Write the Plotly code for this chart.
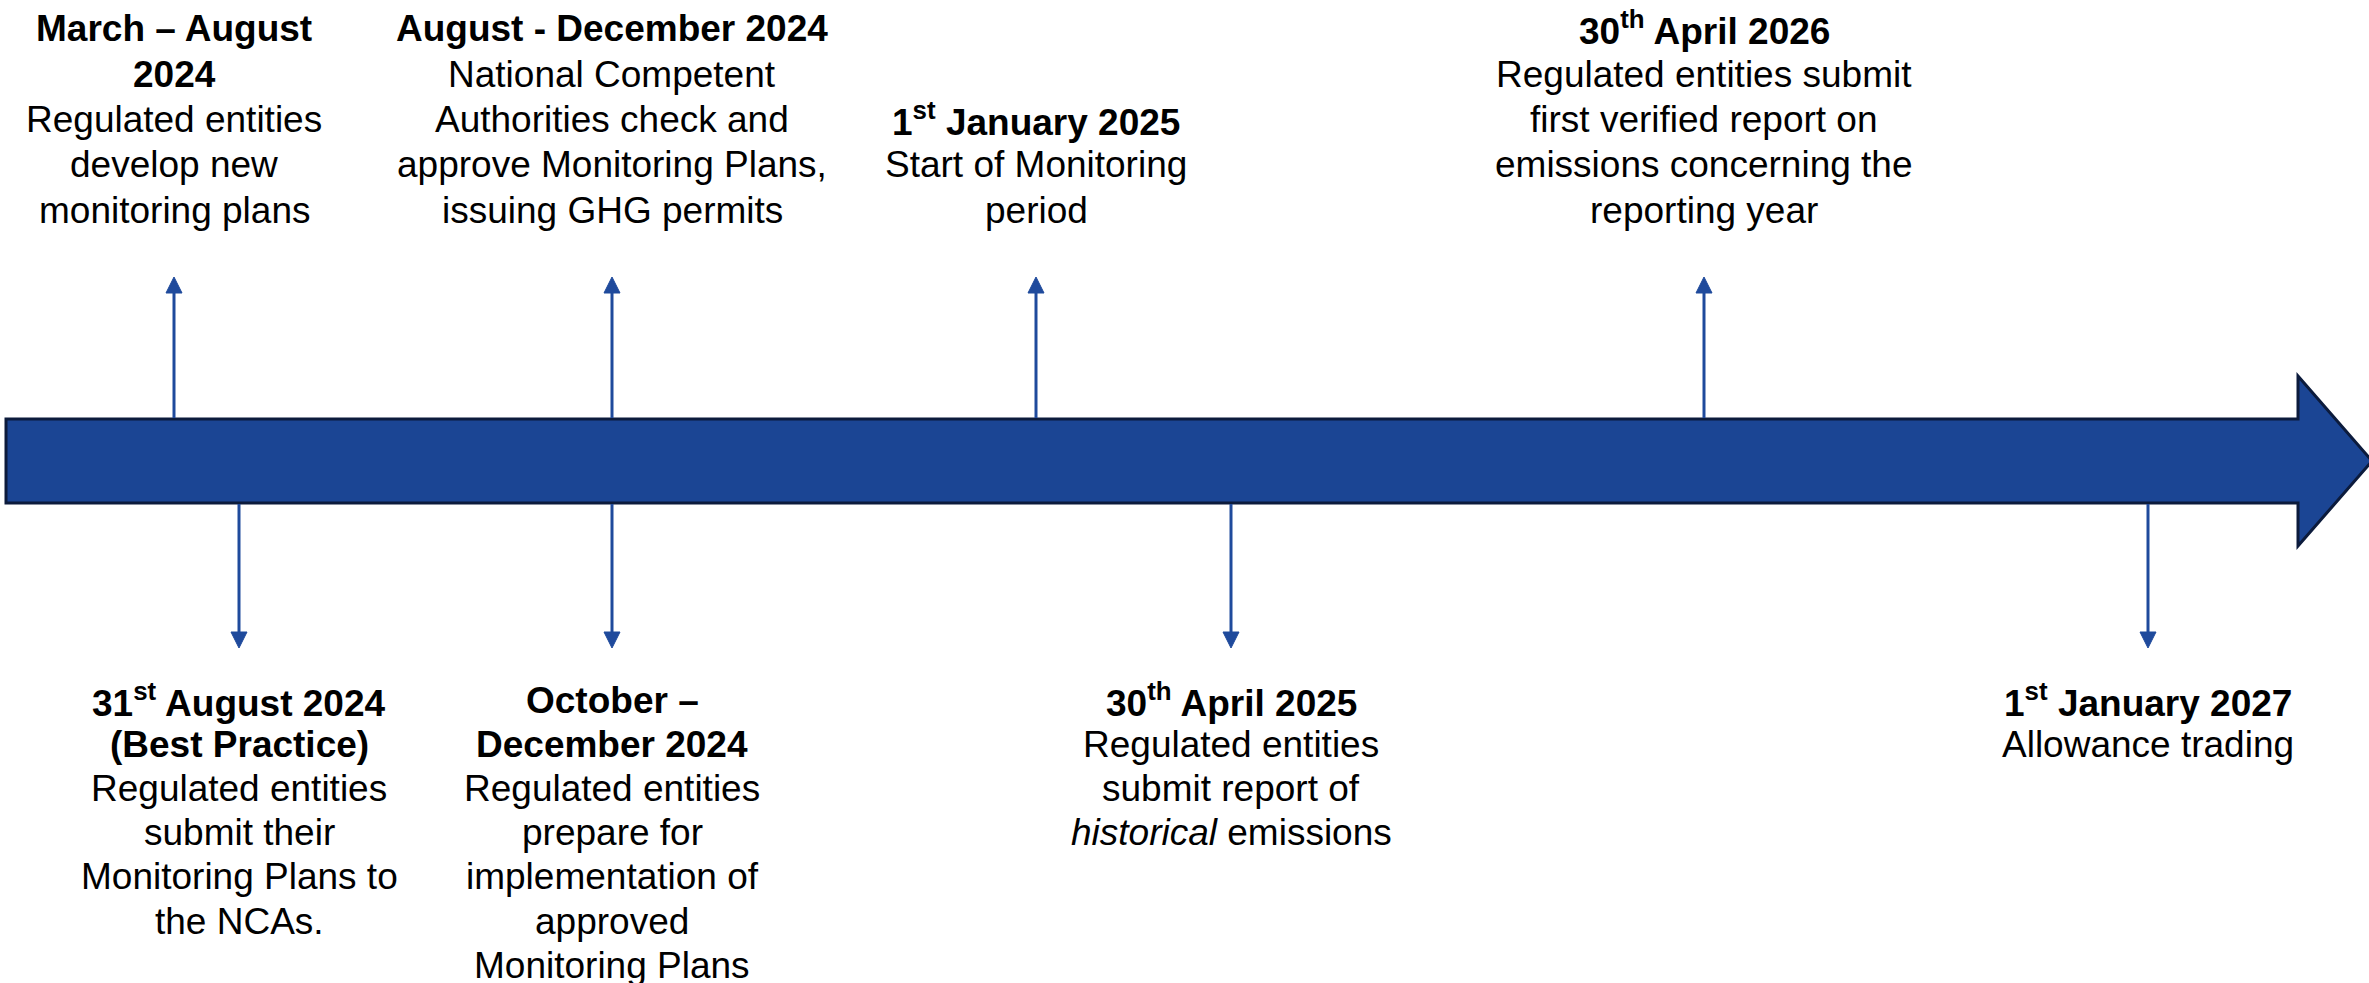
import plotly.graph_objects as go

W, H = 2369, 983

# ---------------- data ----------------
# positions of events along the timeline (axis units)
top_pos = [174, 612, 1036, 1704]
bottom_pos = [239, 612, 1231, 2148]

top_labels = [
    ["<b>March – August</b>", "<b>2024</b>", "Regulated entities", "develop new", "monitoring plans"],
    ["<b>August - December 2024</b>", "National Competent", "Authorities check and",
     "approve Monitoring Plans,", "issuing GHG permits"],
    ["<b>1<sup>st</sup> January 2025</b>", "Start of Monitoring", "period"],
    ["<b>30<sup>th</sup> April 2026</b>", "Regulated entities submit", "first verified report on",
     "emissions concerning the", "reporting year"],
]
bottom_labels = [
    ["<b>31<sup>st</sup> August 2024</b>", "<b>(Best Practice)</b>", "Regulated entities",
     "submit their", "Monitoring Plans to", "the NCAs."],
    ["<b>October –</b>", "<b>December 2024</b>", "Regulated entities", "prepare for",
     "implementation of", "approved", "Monitoring Plans"],
    ["<b>30<sup>th</sup> April 2025</b>", "Regulated entities", "submit report of",
     "<i>historical</i> emissions"],
    ["<b>1<sup>st</sup> January 2027</b>", "Allowance trading"],
]

# ---------------- style / layout ----------------
FONT = "Liberation Sans, Arial, sans-serif"
FS = 37
BODY_FILL = "#1B4594"
BODY_LINE = "#0C1B3C"
ARROW_COL = "#1F4A9C"

body_left, body_right = 6, 2298
body_top, body_bot = 419, 503
head_top, head_bot, head_tip = 376, 546, 2372
mid = (body_top + body_bot) / 2

up_tip = 277
down_tip = 648
head_len = 16
head_hw = 8

top_last_line = 210
top_step = 45.3
bot_first_line = 700
bot_step = 44.2

fig = go.Figure()
fig.add_trace(go.Scatter(x=[0, W], y=[0, H], mode="markers",
                         marker=dict(opacity=0), hoverinfo="skip", showlegend=False))

shapes = []
# main arrow
path = (f"M {body_left},{body_top} L {body_right},{body_top} L {body_right},{head_top} "
        f"L {head_tip},{mid} L {body_right},{head_bot} L {body_right},{body_bot} "
        f"L {body_left},{body_bot} Z")
shapes.append(dict(type="path", path=path, fillcolor=BODY_FILL,
                   line=dict(color=BODY_LINE, width=3), layer="above"))

# up arrows
for x in top_pos:
    shapes.append(dict(type="line", x0=x, x1=x, y0=body_top - 1, y1=up_tip + head_len - 1,
                       line=dict(color=ARROW_COL, width=3), layer="above"))
    shapes.append(dict(type="path",
                       path=f"M {x - head_hw},{up_tip + head_len} L {x},{up_tip} L {x + head_hw},{up_tip + head_len} Z",
                       fillcolor=ARROW_COL, line=dict(color=ARROW_COL, width=1), layer="above"))
# down arrows
for x in bottom_pos:
    shapes.append(dict(type="line", x0=x, x1=x, y0=body_bot + 1, y1=down_tip - head_len + 1,
                       line=dict(color=ARROW_COL, width=3), layer="above"))
    shapes.append(dict(type="path",
                       path=f"M {x - head_hw},{down_tip - head_len} L {x},{down_tip} L {x + head_hw},{down_tip - head_len} Z",
                       fillcolor=ARROW_COL, line=dict(color=ARROW_COL, width=1), layer="above"))

annotations = []
for x, lines in zip(top_pos, top_labels):
    n = len(lines)
    for i, t in enumerate(lines):
        y = top_last_line - (n - 1 - i) * top_step
        annotations.append(dict(x=x, y=y, text=t, showarrow=False, xanchor="center",
                                yanchor="middle", font=dict(family=FONT, size=FS, color="black")))
for x, lines in zip(bottom_pos, bottom_labels):
    for i, t in enumerate(lines):
        y = bot_first_line + i * bot_step
        annotations.append(dict(x=x, y=y, text=t, showarrow=False, xanchor="center",
                                yanchor="middle", font=dict(family=FONT, size=FS, color="black")))

fig.update_layout(
    width=W, height=H,
    margin=dict(l=0, r=0, t=0, b=0),
    paper_bgcolor="white", plot_bgcolor="white",
    xaxis=dict(range=[0, W], visible=False, fixedrange=True),
    yaxis=dict(range=[H, 0], visible=False, fixedrange=True),
    shapes=shapes, annotations=annotations,
    showlegend=False,
)

fig.write_html("out.html", config={"displayModeBar": False},
               post_script="document.body.style.margin='0';document.body.style.overflow='hidden';")
